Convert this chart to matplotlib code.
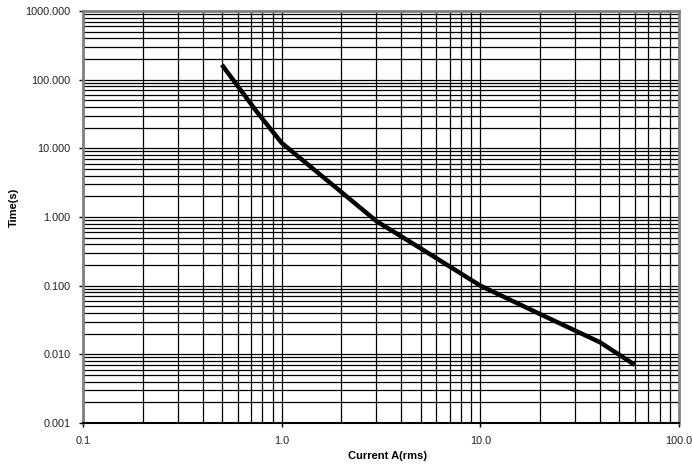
import matplotlib
matplotlib.use("Agg")
import matplotlib.pyplot as plt
from matplotlib.ticker import FixedLocator, FuncFormatter, NullLocator

current = [0.5, 0.75, 1.0, 2.0, 3.0, 5.0, 10.0, 20.0, 40.0, 60.0]
time_s = [165, 34, 12, 2.3, 0.87, 0.35, 0.1, 0.0385, 0.015, 0.007]

x_ticks = [0.1, 1.0, 10.0, 100.0]
y_ticks = [0.001, 0.01, 0.1, 1.0, 10.0, 100.0, 1000.0]

plt.rcParams['font.family'] = ['Liberation Sans', 'DejaVu Sans']

fig = plt.figure(figsize=(6.92, 4.66), dpi=100)
ax = fig.add_axes([83/692, 1-423/466, (679-83)/692, (423-11)/466])
ax.set_xscale('log')
ax.set_yscale('log')
ax.set_xlim(0.1, 100)
ax.set_ylim(0.001, 1000)

# grid lines: every 1..9 x decade
xg = [m * 10.0**e for e in range(-1, 2) for m in range(1, 10)] + [100.0]
yg = [m * 10.0**e for e in range(-3, 3) for m in range(1, 10)] + [1000.0]
for v in xg:
    ax.axvline(v, color='black', lw=0.9, zorder=1)
for v in yg:
    ax.axhline(v, color='black', lw=0.9, zorder=1)

ax.plot(current, time_s, color='black', lw=3.2, solid_capstyle='butt',
        solid_joinstyle='round', zorder=3)

ax.xaxis.set_major_locator(FixedLocator(x_ticks))
ax.yaxis.set_major_locator(FixedLocator(y_ticks))
ax.xaxis.set_minor_locator(NullLocator())
ax.yaxis.set_minor_locator(NullLocator())
ax.xaxis.set_major_formatter(FuncFormatter(lambda v, p: f"{v:.1f}"))
ax.yaxis.set_major_formatter(FuncFormatter(lambda v, p: f"{v:.3f}"))
ax.tick_params(axis='both', which='major', direction='out', length=3, width=1,
               labelsize=7.8, colors='black', labelcolor='#222222')
ax.tick_params(axis='y', pad=6)
ax.tick_params(axis='x', pad=6)

for s in ['left', 'top', 'right']:
    ax.spines[s].set_color('#808080')
    ax.spines[s].set_linewidth(2)
ax.spines['bottom'].set_color('black')
ax.spines['bottom'].set_linewidth(1.5)

fig.text(387/692, 1-456/466, 'Current A(rms)', ha='center', va='center',
         fontsize=8, fontweight='bold')
fig.text(14/692, 1-207/466, 'Time(s)', ha='center', va='center',
         fontsize=8, fontweight='bold', rotation=90)

fig.savefig('out.png', dpi=100)
